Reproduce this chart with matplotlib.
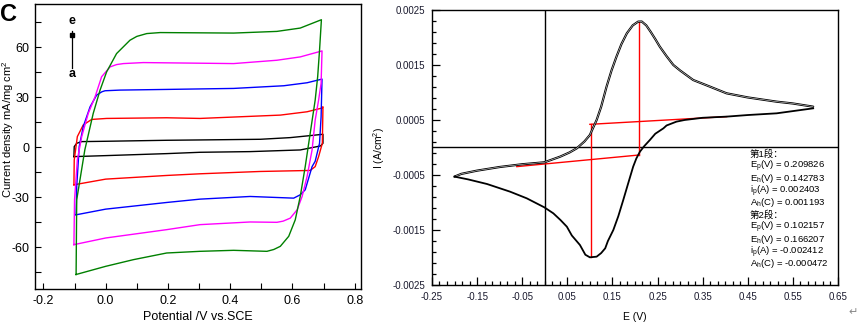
import numpy as np
import matplotlib
matplotlib.use("Agg")
import matplotlib.pyplot as plt
from matplotlib.ticker import FixedLocator, MultipleLocator, FormatStrFormatter

plt.rcParams['font.family'] = ['Liberation Sans', 'Noto Sans CJK SC', 'DejaVu Sans']
plt.rcParams['mathtext.fontset'] = 'custom'
plt.rcParams['mathtext.rm'] = 'Liberation Sans'
plt.rcParams['mathtext.it'] = 'Liberation Sans:italic'
plt.rcParams['mathtext.bf'] = 'Liberation Sans:bold'
plt.rcParams['axes.unicode_minus'] = False

# ---- left panel: CV loops a..e (potential V, current density mA/mg cm2) ----
e_a = [-0.102, -0.101, -0.093, -0.077, 0.0, 0.196, 0.303, 0.497, 0.593, 0.657, 0.698,
       0.698, 0.690, 0.625, 0.464, 0.303, 0.196, 0.0, -0.102]
i_a = [-5.6, 0.4, 2.4, 3.4, 3.6, 4.2, 4.4, 4.8, 5.8, 7.0, 7.8,
       2.4, 0.8, -1.6, -2.6, -3.0, -3.8, -5.0, -5.6]

e_b = [-0.102, -0.101, -0.091, -0.072, -0.045, 0.003, 0.196, 0.303, 0.561, 0.647, 0.694, 0.698,
       0.696, 0.684, 0.673, 0.657, 0.497, 0.303, 0.196, 0.0, -0.102]
i_b = [-22.5, -7.6, 6.4, 13.4, 16.7, 17.3, 17.7, 17.3, 19.3, 21.3, 23.5, 24.3,
       2.4, -5.6, -11.6, -13.9, -14.5, -15.9, -16.9, -19.1, -22.5]

e_c = [-0.095, -0.093, -0.085, -0.072, -0.050, -0.029, -0.012, -0.002, 0.046, 0.196, 0.411,
       0.572, 0.647, 0.695, 0.692, 0.687, 0.673, 0.663, 0.641, 0.625, 0.604, 0.464, 0.303,
       0.196, 0.0, -0.095]
i_c = [-40.5, -23.5, 0.4, 12.4, 24.3, 31.3, 33.3, 33.9, 34.3, 34.7, 35.3,
       36.9, 38.7, 40.9, 18.3, 2.4, -8.4, -11.6, -25.5, -28.5, -30.5, -29.5, -31.1,
       -33.1, -37.1, -40.5]

e_d = [-0.102, -0.100, -0.091, -0.077, -0.056, -0.034, -0.013, 0.014, 0.035, 0.057, 0.121,
       0.411, 0.550, 0.625, 0.695, 0.692, 0.684, 0.673, 0.663, 0.647, 0.631, 0.615, 0.593,
       0.570, 0.550, 0.464, 0.303, 0.196, 0.0, -0.102]
i_d = [-58.4, -31.5, -7.6, 6.4, 20.3, 30.3, 42.3, 48.2, 49.6, 50.2, 50.8,
       50.2, 52.2, 54.2, 57.8, 38.3, 28.3, 16.3, -1.6, -17.5, -29.5, -37.5, -42.5,
       -44.3, -45.0, -44.8, -46.4, -49.4, -54.4, -58.4]

e_e = [-0.095, -0.093, -0.067, -0.040, -0.018, 0.003, 0.035, 0.078, 0.100, 0.132, 0.175,
       0.411, 0.550, 0.625, 0.693, 0.687, 0.681, 0.673, 0.657, 0.641, 0.625, 0.609, 0.588,
       0.561, 0.540, 0.518, 0.411, 0.303, 0.196, 0.089, 0.0, -0.095]
i_e = [-76.3, -31.5, -1.6, 20.3, 34.3, 45.2, 56.2, 64.2, 66.5, 68.2, 68.8,
       68.5, 69.5, 71.5, 76.5, 58.2, 42.3, 28.3, 8.4, -11.6, -29.5, -43.5, -53.4,
       -59.4, -61.3, -62.4, -61.8, -62.4, -63.4, -67.4, -71.4, -76.3]

loops = [(e_a, i_a, 'black'), (e_b, i_b, 'red'), (e_c, i_c, 'blue'),
         (e_d, i_d, 'magenta'), (e_e, i_e, 'green')]

# ---- right panel: single CV (E in V, I in A/cm2) ----
e_fwd = [-0.200, -0.185, -0.150, -0.100, -0.050, -0.001, 0.034, 0.055, 0.071, 0.088,
         0.100, 0.115, 0.125, 0.137, 0.148, 0.159, 0.170, 0.182, 0.195, 0.207, 0.215,
         0.225, 0.235, 0.245, 0.255, 0.270, 0.285, 0.300, 0.329, 0.365, 0.403, 0.450,
         0.514, 0.550, 0.595]
i_fwd = [-0.000530, -0.000480, -0.000421, -0.000355, -0.000305, -0.000270, -0.000167,
         -0.000090, -0.000015, 0.000110, 0.000227, 0.000500, 0.000740, 0.001106,
         0.001400, 0.001652, 0.001880, 0.002076, 0.002220, 0.002288, 0.002290,
         0.002220, 0.002100, 0.001970, 0.001833, 0.001660, 0.001500, 0.001400,
         0.001227, 0.001110, 0.000985, 0.000910, 0.000833, 0.000800, 0.000742]
e_rev = [0.595, 0.514, 0.450, 0.403, 0.350, 0.310, 0.292, 0.270, 0.263, 0.245, 0.233,
         0.220, 0.211, 0.203, 0.196, 0.185, 0.174, 0.163, 0.152, 0.140, 0.134, 0.125,
         0.115, 0.100, 0.090, 0.078, 0.060, 0.049, 0.035, 0.019, -0.001, -0.040, -0.077,
         -0.128, -0.170, -0.200]
i_rev = [0.000712, 0.000621, 0.000590, 0.000561, 0.000540, 0.000500, 0.000470,
         0.000400, 0.000348, 0.000250, 0.000136, 0.000020, -0.000076, -0.000200,
         -0.000348, -0.000650, -0.000955, -0.001250, -0.001500, -0.001700, -0.001833,
         -0.001920, -0.001985, -0.001997, -0.001950, -0.001773, -0.001600, -0.001440,
         -0.001320, -0.001197, -0.001088, -0.000924, -0.000803, -0.000664, -0.000580,
         -0.000530]

# red construction lines
base1_e = [0.100, 0.403]
base1_i = [0.000421, 0.000561]
base2_e = [-0.062, 0.2098]
base2_i = [-0.000348, -0.000136]
peak1_e = [0.2098, 0.2098]
peak1_i = [0.002288, -0.000136]
peak2_e = [0.1022, 0.1022]
peak2_i = [0.000421, -0.001997]

report = ["第1段：",
          "E$_{\\rm p}$(V) = 0.209826",
          "E$_{\\rm h}$(V) = 0.142783",
          "i$_{\\rm p}$(A) = 0.002403",
          "A$_{\\rm h}$(C) = 0.001193",
          "第2段：",
          "E$_{\\rm p}$(V) = 0.102157",
          "E$_{\\rm h}$(V) = 0.166207",
          "i$_{\\rm p}$(A) = -0.002412",
          "A$_{\\rm h}$(C) = -0.000472"]

fig = plt.figure(figsize=(8.6, 3.24), dpi=100)

# left
ax1 = fig.add_axes([0.0407, 0.108, 0.379, 0.880])
for e, i, c in loops:
    ax1.plot(e, i, color=c, lw=1.0)
ax1.set_xlim(-0.227, 0.82)
ax1.set_ylim(-85, 86)
ax1.xaxis.set_major_locator(MultipleLocator(0.2))
ax1.xaxis.set_minor_locator(MultipleLocator(0.1))
ax1.yaxis.set_major_locator(MultipleLocator(30))
ax1.yaxis.set_minor_locator(MultipleLocator(15))
ax1.xaxis.set_major_formatter(FormatStrFormatter('%.1f'))
ax1.tick_params(which='both', direction='in', top=False, right=False,
                length=4, width=0.8, labelsize=9, pad=4)
for s in ax1.spines.values():
    s.set_linewidth(1.0)
ax1.set_xlabel("Potential /V vs.SCE", fontsize=9, va='center')
ax1.xaxis.set_label_coords(0.5, -0.097)
ax1.set_ylabel("Current density mA/mg cm$^{2}$", fontsize=8, va='center')
ax1.yaxis.set_label_coords(-0.084, 0.56)
fig.text(0.0, 0.955, "C", fontsize=17, fontweight='bold', va='center', ha='left')
fig.text(0.0837, 0.935, "e", fontsize=9, fontweight='bold', ha='center', va='center')
fig.text(0.0837, 0.772, "a", fontsize=9, fontweight='bold', ha='center', va='center')
fig.add_artist(plt.Line2D([0.0837, 0.0837], [0.79, 0.905], color='black', lw=0.9,
                          transform=fig.transFigure))
fig.add_artist(plt.Line2D([0.0837], [0.892], color='black', marker='s', ms=3,
                          transform=fig.transFigure))

# right
ax2 = fig.add_axes([0.5023, 0.1204, 0.4721, 0.8488])
ax2.axvline(0, color='black', lw=1.0)
ax2.axhline(0, color='black', lw=1.0)
ax2.plot(base1_e, base1_i, color='red', lw=1.0)
ax2.plot(base2_e, base2_i, color='red', lw=1.0)
ax2.plot(peak1_e, peak1_i, color='red', lw=1.0)
ax2.plot(peak2_e, peak2_i, color='red', lw=1.0)
ax2.plot(e_fwd, i_fwd, color='black', lw=1.6, solid_capstyle='round')
ax2.plot(e_fwd, i_fwd, color='white', lw=0.35)
ax2.plot(e_rev, i_rev, color='black', lw=1.3)
ax2.set_xlim(-0.25, 0.65)
ax2.set_ylim(-0.0025, 0.0025)
ax2.xaxis.set_major_locator(FixedLocator(np.arange(-0.25, 0.66, 0.1)))
ax2.xaxis.set_minor_locator(FixedLocator(np.arange(-0.25, 0.651, 0.1 / 6)))
ax2.yaxis.set_major_locator(FixedLocator(np.arange(-0.0025, 0.0026, 0.001)))
ax2.yaxis.set_minor_locator(FixedLocator(np.arange(-0.0025, 0.00251, 0.0002)))
ax2.xaxis.set_major_formatter(FormatStrFormatter('%.2f'))
ax2.yaxis.set_major_formatter(FormatStrFormatter('%.4f'))
ax2.tick_params(which='major', direction='in', length=6, width=0.9)
ax2.tick_params(which='minor', direction='in', length=3, width=0.9)
ax2.tick_params(which='both', top=False, right=False, labelsize=7, pad=5,
                labelcolor='#1a1a2e')
for s in ax2.spines.values():
    s.set_linewidth(1.0)
ax2.set_xlabel("E (V)", fontsize=7.5, va='center')
ax2.xaxis.set_label_coords(0.5, -0.116)
ax2.set_ylabel("I (A/cm$^{2}$)", fontsize=7.5, labelpad=4)
for k, line in enumerate(report):
    ax2.text(0.783, (285 - (156.5 + 12.2 * k)) / 275, line, fontsize=6.8,
             va='baseline', ha='left', transform=ax2.transAxes)

fig.text(0.997, 0.02, "\u21b5", fontsize=8, color='#888888', ha='right', va='bottom')

fig.savefig("out.png", dpi=100)
